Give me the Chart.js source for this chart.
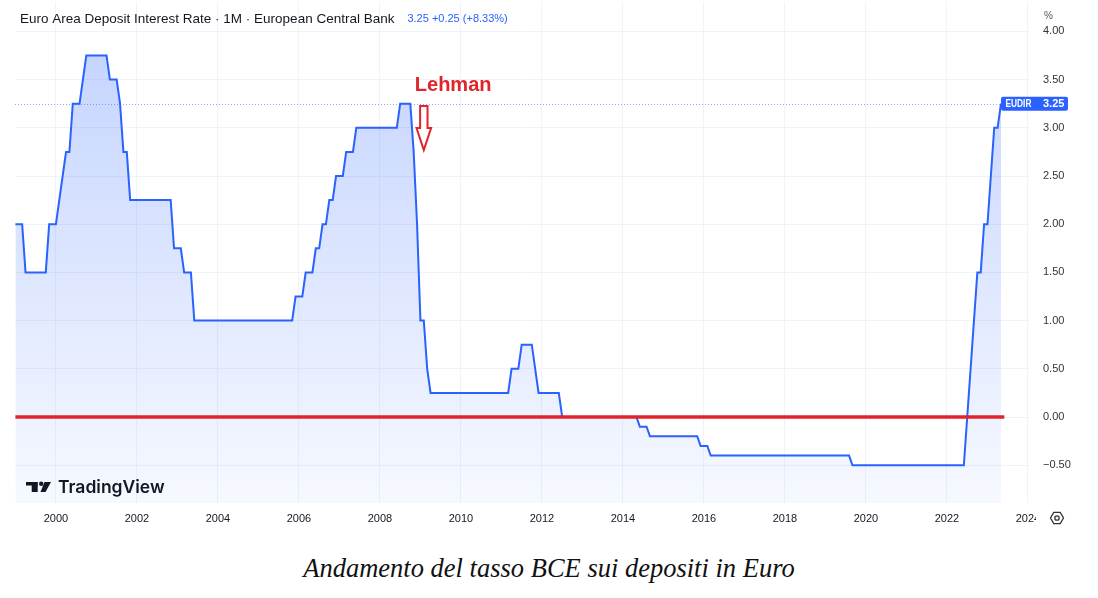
<!DOCTYPE html>
<html>
<head>
<meta charset="utf-8">
<script src="https://cdn.jsdelivr.net/npm/chart.js@4.4.0/dist/chart.umd.min.js"></script>
<style>
    html, body { margin: 0; padding: 0; background: #fff; }
    #wrap { position: relative; width: 1098px; height: 540px; }
    #caption {
        position: absolute; left: 0; top: 553px; width: 1098px;
        text-align: center; line-height: 30px;
        font: italic 26.5px "Liberation Serif", "DejaVu Serif", serif; color: #111;
    }
</style>
</head>
<body>
<div id="wrap"><canvas id="chart" width="1098" height="540"></canvas></div>
<div id="caption">Andamento del tasso BCE sui depositi in Euro</div>
<script>
/* ---------- Data (monthly closes, vertices of the line) ---------- */

const rateMonths = [
    '1999-01', '1999-03', '1999-04', '1999-10', '1999-11', '2000-01', '2000-02', '2000-03',
    '2000-04', '2000-05', '2000-06', '2000-08', '2000-09', '2000-10', '2001-04', '2001-05',
    '2001-07', '2001-08', '2001-09', '2001-10', '2001-11', '2002-11', '2002-12', '2003-02',
    '2003-03', '2003-05', '2003-06', '2005-11', '2005-12', '2006-02', '2006-03', '2006-05',
    '2006-06', '2006-07', '2006-08', '2006-09', '2006-10', '2006-11', '2006-12', '2007-02',
    '2007-03', '2007-05', '2007-06', '2008-06', '2008-07', '2008-10', '2008-11', '2008-12',
    '2009-01', '2009-02', '2009-03', '2009-04', '2011-03', '2011-04', '2011-06', '2011-07',
    '2011-10', '2011-11', '2011-12', '2012-06', '2012-07', '2014-05', '2014-06', '2014-08',
    '2014-09', '2015-11', '2015-12', '2016-02', '2016-03', '2019-08', '2019-09', '2022-06',
    '2022-07', '2022-08', '2022-09', '2022-10', '2022-11', '2022-12', '2023-01', '2023-02',
    '2023-03', '2023-04', '2023-05',
];
const rateValues = [
    2.00, 2.00, 1.50, 1.50, 2.00, 2.00, 2.25, 2.50,
    2.75, 2.75, 3.25, 3.25, 3.50, 3.75, 3.75, 3.50,
    3.50, 3.25, 2.75, 2.75, 2.25, 2.25, 1.75, 1.75,
    1.50, 1.50, 1.00, 1.00, 1.25, 1.25, 1.50, 1.50,
    1.75, 1.75, 2.00, 2.00, 2.25, 2.25, 2.50, 2.50,
    2.75, 2.75, 3.00, 3.00, 3.25, 3.25, 2.75, 2.00,
    1.00, 1.00, 0.50, 0.25, 0.25, 0.50, 0.50, 0.75,
    0.75, 0.50, 0.25, 0.25, 0.00, 0.00, -0.10, -0.10,
    -0.20, -0.20, -0.30, -0.30, -0.40, -0.40, -0.50, -0.50,
    0.00, 0.50, 1.00, 1.50, 1.50, 2.00, 2.00, 2.50,
    3.00, 3.00, 3.25,
];

const zeroLineMonths = ['1999-01', '2023-06'];
const zeroLineValues = [0, 0];

const yearTicks = [2000, 2002, 2004, 2006, 2008, 2010, 2012, 2014, 2016, 2018, 2020, 2022, 2024];
const rateTicks = [-0.5, 0, 0.5, 1, 1.5, 2, 2.5, 3, 3.5, 4];

const symbol = 'EUDIR';
const lastValue = 3.25;
const lastChange = '+0.25 (+8.33%)';
const lehmanMonth = '2009-02';
const lehmanTip = 2.77;

/* ---------- Helpers ---------- */

const UI_FONT = '"Liberation Sans", Arial, sans-serif';
const TV_BLUE = '#2962ff';
const TEXT = '#131722';
const GRID = '#f0f3fa';

function toYear(m) {
    const [y, mo] = m.split('-').map(Number);
    return y + (mo - 1) / 12;
}

function fmtRate(v) {
    return v < 0 ? '\u2212' + Math.abs(v).toFixed(2) : v.toFixed(2);
}

/* ---------- Overlay plugin: title, price label, annotation, logo ---------- */

const overlay = {
    id: 'overlay',
    beforeDatasetsDraw(chart) {
        const { ctx, chartArea: a, scales: { x, y } } = chart;
        const py = Math.round(y.getPixelForValue(lastValue)) + 0.5;
        const endX = x.getPixelForValue(toYear(rateMonths[rateMonths.length - 1]));
        ctx.save();
        ctx.strokeStyle = 'rgba(41, 98, 255, 0.55)';
        ctx.lineWidth = 1;
        ctx.setLineDash([1, 2]);
        ctx.beginPath();
        ctx.moveTo(a.left, py);
        ctx.lineTo(endX, py);
        ctx.stroke();
        ctx.restore();
    },
    afterDraw(chart) {
        const { ctx, chartArea: a, scales: { x, y } } = chart;
        ctx.save();

        // title
        ctx.textBaseline = 'middle';
        ctx.textAlign = 'left';
        ctx.font = `13.5px ${UI_FONT}`;
        ctx.fillStyle = TEXT;
        const title = 'Euro Area Deposit Interest Rate \u00b7 1M \u00b7 European Central Bank';
        ctx.fillText(title, 20, 19);
        const tw = ctx.measureText(title).width;
        ctx.font = `11px ${UI_FONT}`;
        ctx.fillStyle = TV_BLUE;
        ctx.fillText(`${lastValue.toFixed(2)} ${lastChange}`, 20 + tw + 13, 19);

        // % unit above price axis
        ctx.fillStyle = '#555';
        ctx.font = `10px ${UI_FONT}`;
        ctx.fillText('%', a.right + 14, 16);

        // last value label
        const py = y.getPixelForValue(lastValue);
        const bx = x.getPixelForValue(toYear(rateMonths[rateMonths.length - 1]));
        ctx.fillStyle = TV_BLUE;
        ctx.beginPath();
        ctx.roundRect(bx, py - 7, 67, 14, 2);
        ctx.fill();
        ctx.fillStyle = '#fff';
        ctx.font = `bold 11px ${UI_FONT}`;
        ctx.fillText(lastValue.toFixed(2), a.right + 13, py + 0.5);
        ctx.save();
        ctx.translate(bx + 4.5, py + 0.5);
        ctx.scale(0.76, 1);
        ctx.fillText(symbol, 0, 0);
        ctx.restore();

        // hide the clipped part of the last year label
        ctx.fillStyle = '#fff';
        ctx.fillRect(a.right + 6, a.bottom + 4, 60, 26);

        // settings icon
        const cx = a.right + 27, cy = a.bottom + 15;
        ctx.strokeStyle = '#333';
        ctx.lineWidth = 1.3;
        ctx.beginPath();
        for (let i = 0; i < 6; i++) {
            const ang = Math.PI / 3 * i;
            const px = cx + 6.5 * Math.cos(ang), pyy = cy + 6.5 * Math.sin(ang);
            if (i === 0) ctx.moveTo(px, pyy); else ctx.lineTo(px, pyy);
        }
        ctx.closePath();
        ctx.stroke();
        ctx.beginPath();
        ctx.arc(cx, cy, 2.2, 0, Math.PI * 2);
        ctx.stroke();

        // Lehman annotation
        const lx = x.getPixelForValue(toYear(lehmanMonth));
        const ty = y.getPixelForValue(lehmanTip);
        ctx.font = `bold 20px ${UI_FONT}`;
        ctx.fillStyle = '#e0242b';
        ctx.fillText('Lehman', lx - 9, ty - 64);
        ctx.beginPath();
        ctx.moveTo(lx - 3.7, ty - 44);
        ctx.lineTo(lx + 3.7, ty - 44);
        ctx.lineTo(lx + 3.7, ty - 22);
        ctx.lineTo(lx + 7.3, ty - 22);
        ctx.lineTo(lx, ty);
        ctx.lineTo(lx - 7.3, ty - 22);
        ctx.lineTo(lx - 3.7, ty - 22);
        ctx.closePath();
        ctx.fillStyle = '#fff';
        ctx.fill();
        ctx.strokeStyle = '#e0242b';
        ctx.lineWidth = 2;
        ctx.stroke();

        // TradingView logo
        const gx = a.left + 11, gy = a.bottom - 21;
        ctx.fillStyle = TEXT;
        ctx.fillRect(gx, gy, 11.5, 3.5);
        ctx.fillRect(gx + 5.7, gy, 6, 10);
        ctx.beginPath();
        ctx.arc(gx + 15.2, gy + 1.8, 2.2, 0, Math.PI * 2);
        ctx.fill();
        ctx.beginPath();
        ctx.moveTo(gx + 18.5, gy);
        ctx.lineTo(gx + 25, gy);
        ctx.lineTo(gx + 19.5, gy + 10);
        ctx.lineTo(gx + 14.5, gy + 10);
        ctx.closePath();
        ctx.fill();
        ctx.font = `600 17.5px Inter, ${UI_FONT}`;
        ctx.textBaseline = 'alphabetic';
        ctx.fillText('TradingView', gx + 32, gy + 10.5);

        ctx.restore();
    },
};

/* ---------- Chart ---------- */

new Chart(document.getElementById('chart'), {
    type: 'line',
    data: {
        datasets: [
            {
                label: 'Zero',
                data: zeroLineMonths.map((m, i) => ({ x: toYear(m), y: zeroLineValues[i] })),
                borderColor: '#e3232a',
                borderWidth: 3.5,
                pointRadius: 0,
                fill: false,
                order: 0,
            },
            {
                label: symbol,
                data: rateMonths.map((m, i) => ({ x: toYear(m), y: rateValues[i] })),
                borderColor: TV_BLUE,
                borderWidth: 2,
                pointRadius: 0,
                tension: 0,
                fill: 'start',
                backgroundColor(c) {
                    const area = c.chart.chartArea;
                    if (!area) return 'rgba(41, 98, 255, 0.15)';
                    const g = c.chart.ctx.createLinearGradient(0, area.top, 0, area.bottom);
                    g.addColorStop(0, 'rgba(41, 98, 255, 0.29)');
                    g.addColorStop(1, 'rgba(41, 98, 255, 0.04)');
                    return g;
                },
                order: 1,
            },
        ],
    },
    options: {
        responsive: false,
        devicePixelRatio: 1,
        animation: false,
        layout: { padding: { left: 15, top: 2, right: 0, bottom: 0 } },
        plugins: { legend: { display: false }, tooltip: { enabled: false } },
        scales: {
            x: {
                type: 'linear',
                min: 1998.99,
                max: 2024.05,
                afterBuildTicks(s) { s.ticks = yearTicks.map(v => ({ value: v })); },
                afterFit(s) { s.height = 37; s.paddingLeft = 0; s.paddingRight = 0; },
                grid: { color: GRID, drawTicks: false },
                border: { display: false },
                ticks: {
                    padding: 9,
                    autoSkip: false,
                    maxRotation: 0,
                    color: TEXT,
                    font: { size: 11, family: UI_FONT },
                    callback: v => String(v),
                },
            },
            y: {
                position: 'right',
                min: -0.892,
                max: 4.305,
                afterBuildTicks(s) { s.ticks = rateTicks.map(v => ({ value: v })); },
                afterFit(s) { s.width = 68; s.paddingTop = 0; s.paddingBottom = 0; },
                grid: { color: GRID, drawTicks: false },
                border: { display: false },
                ticks: {
                    padding: 13,
                    color: '#333',
                    font: { size: 11, family: UI_FONT },
                    callback: v => fmtRate(v),
                },
            },
        },
    },
    plugins: [overlay],
});
</script>
</body>
</html>
